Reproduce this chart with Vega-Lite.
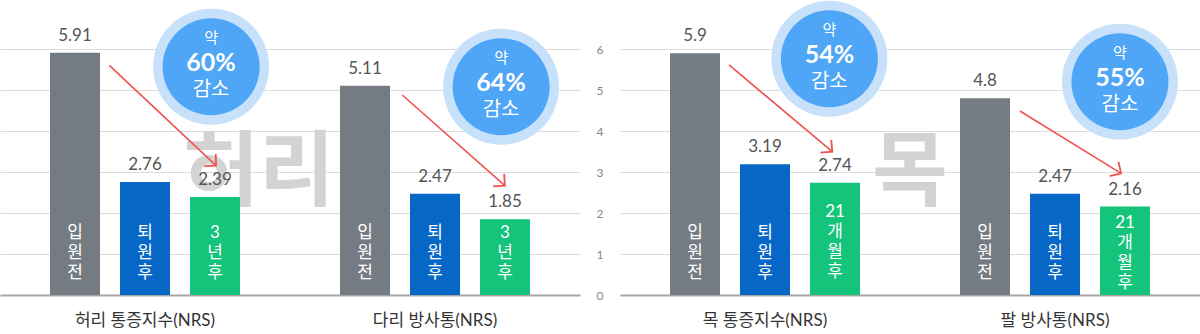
{
  "$schema": "https://vega.github.io/schema/vega-lite/v6.json",
  "padding": 0,
  "spacing": 16,
  "background": "white",
  "config": {"view": {"stroke": null}, "font": "Lato, Noto Sans CJK KR"},
  "resolve": {"scale": {"xOffset": "independent"}},
  "datasets": {
    "bars": [
      {"panel": "L", "group": "허리 통증지수(NRS)", "stage": "입원전", "label": "입\n원\n전", "value": 5.91},
      {"panel": "L", "group": "허리 통증지수(NRS)", "stage": "퇴원후", "label": "퇴\n원\n후", "value": 2.76},
      {"panel": "L", "group": "허리 통증지수(NRS)", "stage": "3년후", "label": "3\n년\n후", "value": 2.39},
      {"panel": "L", "group": "다리 방사통(NRS)", "stage": "입원전", "label": "입\n원\n전", "value": 5.11},
      {"panel": "L", "group": "다리 방사통(NRS)", "stage": "퇴원후", "label": "퇴\n원\n후", "value": 2.47},
      {"panel": "L", "group": "다리 방사통(NRS)", "stage": "3년후", "label": "3\n년\n후", "value": 1.85},
      {"panel": "R", "group": "목 통증지수(NRS)", "stage": "입원전", "label": "입\n원\n전", "value": 5.9},
      {"panel": "R", "group": "목 통증지수(NRS)", "stage": "퇴원후", "label": "퇴\n원\n후", "value": 3.19},
      {"panel": "R", "group": "목 통증지수(NRS)", "stage": "21개월후", "label": "21\n개\n월\n후", "value": 2.74},
      {"panel": "R", "group": "팔 방사통(NRS)", "stage": "입원전", "label": "입\n원\n전", "value": 4.8},
      {"panel": "R", "group": "팔 방사통(NRS)", "stage": "퇴원후", "label": "퇴\n원\n후", "value": 2.47},
      {"panel": "R", "group": "팔 방사통(NRS)", "stage": "21개월후", "label": "21\n개\n월\n후", "value": 2.16}
    ],
    "bubbles": [
      {"panel": "L", "pct": "60%", "x": 0.728, "y": 5.572},
      {"panel": "L", "pct": "64%", "x": 1.728, "y": 5.084},
      {"panel": "R", "pct": "54%", "x": 0.722, "y": 5.767},
      {"panel": "R", "pct": "55%", "x": 1.724, "y": 5.206}
    ],
    "arrows": [
      {"panel": "L", "id": 1, "x": 0.377, "y": 5.606, "x2": 0.745, "y2": 3.156},
      {"panel": "L", "id": 2, "x": 1.387, "y": 4.881, "x2": 1.741, "y2": 2.668},
      {"panel": "R", "id": 3, "x": 0.376, "y": 5.614, "x2": 0.732, "y2": 3.498},
      {"panel": "R", "id": 4, "x": 1.379, "y": 4.491, "x2": 1.728, "y2": 2.97}
    ],
    "marks": [
      {"panel": "L", "text": "허리", "x": 0.893, "y": 2.95},
      {"panel": "R", "text": "목", "x": 1.0, "y": 2.95}
    ]
  },
  "hconcat": [
    {
      "width": 580,
      "height": 295,
      "resolve": {"scale": {"x": "independent"}},
      "layer": [
        {
          "data": {"name": "marks"},
          "transform": [{"filter": "datum.panel === 'L'"}],
          "mark": {"type": "text", "font": "Noto Sans CJK KR", "fontSize": 82, "fontWeight": "bold", "color": "#d3d3d3", "align": "center", "baseline": "middle"},
          "encoding": {
            "x": {"field": "x", "type": "quantitative", "scale": {"domain": [0, 2], "nice": false, "zero": false}, "axis": null},
            "y": {"field": "y", "type": "quantitative", "title": null},
            "text": {"field": "text"}
          }
        },
        {
          "data": {"name": "bars"},
          "transform": [{"filter": "datum.panel === 'L'"}],
          "mark": {"type": "bar"},
          "encoding": {
            "x": {"field": "group", "type": "nominal", "scale": {"domain": ["허리 통증지수(NRS)", "다리 방사통(NRS)"], "paddingInner": 0, "paddingOuter": 0},
              "axis": {"title": null, "ticks": false, "tickSize": 0, "labelPadding": 17, "labelFontSize": 17, "labelColor": "#333", "labelAngle": 0, "domainColor": "#a6a6a6", "domainWidth": 2, "grid": false}},
            "xOffset": {"field": "stage", "type": "nominal", "scale": {"domain": ["입원전", "퇴원후", "3년후"], "paddingInner": 0.2857, "paddingOuter": 0.7143}},
            "y": {"field": "value", "type": "quantitative", "title": null, "scale": {"domain": [0, 7.2], "nice": false},
              "axis": {"title": null, "values": [0, 1, 2, 3, 4, 5, 6], "labels": false, "ticks": false, "domain": false, "grid": true, "gridColor": "#dcdcdc", "gridWidth": 1}},
            "color": {"field": "stage", "type": "nominal", "scale": {"domain": ["입원전", "퇴원후", "3년후", "21개월후"], "range": ["#757b83", "#0767c7", "#14c47a", "#14c47a"]}, "legend": null}
          }
        },
        {
          "data": {"name": "bars"},
          "transform": [{"filter": "datum.panel === 'L'"}],
          "mark": {"type": "text", "baseline": "alphabetic", "dy": -12, "fontSize": 17, "color": "#555"},
          "encoding": {
            "x": {"field": "group", "type": "nominal", "scale": {"domain": ["허리 통증지수(NRS)", "다리 방사통(NRS)"], "paddingInner": 0, "paddingOuter": 0}, "axis": null},
            "xOffset": {"field": "stage", "type": "nominal", "scale": {"domain": ["입원전", "퇴원후", "3년후"], "paddingInner": 0.2857, "paddingOuter": 0.7143}},
            "y": {"field": "value", "type": "quantitative", "title": null},
            "text": {"field": "value", "type": "quantitative"}
          }
        },
        {
          "data": {"name": "bars"},
          "transform": [{"filter": "datum.panel === 'L'"}],
          "mark": {"type": "text", "baseline": "alphabetic", "dy": -57, "fontSize": 17, "lineHeight": 20, "lineBreak": "\n", "color": "white"},
          "encoding": {
            "x": {"field": "group", "type": "nominal", "scale": {"domain": ["허리 통증지수(NRS)", "다리 방사통(NRS)"], "paddingInner": 0, "paddingOuter": 0}, "axis": null},
            "xOffset": {"field": "stage", "type": "nominal", "scale": {"domain": ["입원전", "퇴원후", "3년후"], "paddingInner": 0.2857, "paddingOuter": 0.7143}},
            "y": {"datum": 0, "type": "quantitative", "title": null},
            "text": {"field": "label"}
          }
        },
        {
          "data": {"name": "bubbles"},
          "transform": [{"filter": "datum.panel === 'L'"}],
          "mark": {"type": "point", "shape": "circle", "filled": true, "size": 13456, "color": "#c8e1fa", "opacity": 1},
          "encoding": {
            "x": {"field": "x", "type": "quantitative", "scale": {"domain": [0, 2], "nice": false, "zero": false}, "axis": null},
            "y": {"field": "y", "type": "quantitative", "title": null}
          }
        },
        {
          "data": {"name": "bubbles"},
          "transform": [{"filter": "datum.panel === 'L'"}],
          "mark": {"type": "point", "shape": "circle", "filled": true, "size": 9409, "color": "#4fa5f6", "opacity": 1},
          "encoding": {
            "x": {"field": "x", "type": "quantitative", "scale": {"domain": [0, 2], "nice": false, "zero": false}, "axis": null},
            "y": {"field": "y", "type": "quantitative", "title": null}
          }
        },
        {
          "data": {"name": "bubbles"},
          "transform": [{"filter": "datum.panel === 'L'"}],
          "mark": {"type": "text", "text": "약", "fontSize": 15, "dy": -29, "color": "white", "baseline": "middle"},
          "encoding": {
            "x": {"field": "x", "type": "quantitative", "scale": {"domain": [0, 2], "nice": false, "zero": false}, "axis": null},
            "y": {"field": "y", "type": "quantitative", "title": null}
          }
        },
        {
          "data": {"name": "bubbles"},
          "transform": [{"filter": "datum.panel === 'L'"}],
          "mark": {"type": "text", "fontSize": 25, "fontWeight": "bold", "dy": -4, "color": "white", "baseline": "middle"},
          "encoding": {
            "x": {"field": "x", "type": "quantitative", "scale": {"domain": [0, 2], "nice": false, "zero": false}, "axis": null},
            "y": {"field": "y", "type": "quantitative", "title": null},
            "text": {"field": "pct"}
          }
        },
        {
          "data": {"name": "bubbles"},
          "transform": [{"filter": "datum.panel === 'L'"}],
          "mark": {"type": "text", "text": "감소", "fontSize": 20, "dy": 23, "color": "white", "baseline": "middle"},
          "encoding": {
            "x": {"field": "x", "type": "quantitative", "scale": {"domain": [0, 2], "nice": false, "zero": false}, "axis": null},
            "y": {"field": "y", "type": "quantitative", "title": null}
          }
        },
        {
          "data": {"name": "arrows"},
          "transform": [{"filter": "datum.panel === 'L'"}],
          "mark": {"type": "rule", "color": "#f05252", "strokeWidth": 1.6},
          "encoding": {
            "x": {"field": "x", "type": "quantitative", "scale": {"domain": [0, 2], "nice": false, "zero": false}, "axis": null},
            "y": {"field": "y", "type": "quantitative", "title": null},
            "x2": {"field": "x2"},
            "y2": {"field": "y2"}
          }
        },
        {
          "data": {"name": "arrows"},
          "transform": [{"filter": "datum.id === 1"}],
          "mark": {"type": "point", "shape": "M-1,-1L0,0L-1,1", "filled": false, "size": 280, "color": "#f05252", "strokeWidth": 1.8, "angle": 43.3, "opacity": 1},
          "encoding": {
            "x": {"field": "x2", "type": "quantitative", "scale": {"domain": [0, 2], "nice": false, "zero": false}, "axis": null},
            "y": {"field": "y2", "type": "quantitative", "title": null}
          }
        },
        {
          "data": {"name": "arrows"},
          "transform": [{"filter": "datum.id === 2"}],
          "mark": {"type": "point", "shape": "M-1,-1L0,0L-1,1", "filled": false, "size": 280, "color": "#f05252", "strokeWidth": 1.8, "angle": 41.4, "opacity": 1},
          "encoding": {
            "x": {"field": "x2", "type": "quantitative", "scale": {"domain": [0, 2], "nice": false, "zero": false}, "axis": null},
            "y": {"field": "y2", "type": "quantitative", "title": null}
          }
        }
      ]
    },
    {
      "width": 580,
      "height": 295,
      "resolve": {"scale": {"x": "independent"}},
      "layer": [
        {
          "data": {"name": "marks"},
          "transform": [{"filter": "datum.panel === 'R'"}],
          "mark": {"type": "text", "font": "Noto Sans CJK KR", "fontSize": 82, "fontWeight": "bold", "color": "#d3d3d3", "align": "center", "baseline": "middle"},
          "encoding": {
            "x": {"field": "x", "type": "quantitative", "scale": {"domain": [0, 2], "nice": false, "zero": false}, "axis": null},
            "y": {"field": "y", "type": "quantitative", "title": null},
            "text": {"field": "text"}
          }
        },
        {
          "data": {"name": "bars"},
          "transform": [{"filter": "datum.panel === 'R'"}],
          "mark": {"type": "bar"},
          "encoding": {
            "x": {"field": "group", "type": "nominal", "scale": {"domain": ["목 통증지수(NRS)", "팔 방사통(NRS)"], "paddingInner": 0, "paddingOuter": 0},
              "axis": {"title": null, "ticks": false, "tickSize": 0, "labelPadding": 17, "labelFontSize": 17, "labelColor": "#333", "labelAngle": 0, "domainColor": "#a6a6a6", "domainWidth": 2, "grid": false}},
            "xOffset": {"field": "stage", "type": "nominal", "scale": {"domain": ["입원전", "퇴원후", "21개월후"], "paddingInner": 0.2857, "paddingOuter": 0.7143}},
            "y": {"field": "value", "type": "quantitative", "title": null, "scale": {"domain": [0, 7.2], "nice": false},
              "axis": {"title": null, "values": [0, 1, 2, 3, 4, 5, 6], "labels": true, "labelFontSize": 12, "labelColor": "#888", "labelPadding": 17, "ticks": false, "tickSize": 0, "domain": false, "grid": true, "gridColor": "#dcdcdc", "gridWidth": 1}},
            "color": {"field": "stage", "type": "nominal", "scale": {"domain": ["입원전", "퇴원후", "3년후", "21개월후"], "range": ["#757b83", "#0767c7", "#14c47a", "#14c47a"]}, "legend": null}
          }
        },
        {
          "data": {"name": "bars"},
          "transform": [{"filter": "datum.panel === 'R'"}],
          "mark": {"type": "text", "baseline": "alphabetic", "dy": -12, "fontSize": 17, "color": "#555"},
          "encoding": {
            "x": {"field": "group", "type": "nominal", "scale": {"domain": ["목 통증지수(NRS)", "팔 방사통(NRS)"], "paddingInner": 0, "paddingOuter": 0}, "axis": null},
            "xOffset": {"field": "stage", "type": "nominal", "scale": {"domain": ["입원전", "퇴원후", "21개월후"], "paddingInner": 0.2857, "paddingOuter": 0.7143}},
            "y": {"field": "value", "type": "quantitative", "title": null},
            "text": {"field": "value", "type": "quantitative"}
          }
        },
        {
          "data": {"name": "bars"},
          "transform": [{"filter": "datum.panel === 'R' && datum.stage !== '21개월후'"}],
          "mark": {"type": "text", "baseline": "alphabetic", "dy": -57, "fontSize": 17, "lineHeight": 20, "lineBreak": "\n", "color": "white"},
          "encoding": {
            "x": {"field": "group", "type": "nominal", "scale": {"domain": ["목 통증지수(NRS)", "팔 방사통(NRS)"], "paddingInner": 0, "paddingOuter": 0}, "axis": null},
            "xOffset": {"field": "stage", "type": "nominal", "scale": {"domain": ["입원전", "퇴원후", "21개월후"], "paddingInner": 0.2857, "paddingOuter": 0.7143}},
            "y": {"datum": 0, "type": "quantitative", "title": null},
            "text": {"field": "label"}
          }
        },
        {
          "data": {"name": "bars"},
          "transform": [{"filter": "datum.panel === 'R' && datum.stage === '21개월후' && datum.group === '목 통증지수(NRS)'"}],
          "mark": {"type": "text", "baseline": "alphabetic", "dy": -78, "fontSize": 17, "lineHeight": 20, "lineBreak": "\n", "color": "white"},
          "encoding": {
            "x": {"field": "group", "type": "nominal", "scale": {"domain": ["목 통증지수(NRS)", "팔 방사통(NRS)"], "paddingInner": 0, "paddingOuter": 0}, "axis": null},
            "xOffset": {"field": "stage", "type": "nominal", "scale": {"domain": ["입원전", "퇴원후", "21개월후"], "paddingInner": 0.2857, "paddingOuter": 0.7143}},
            "y": {"datum": 0, "type": "quantitative", "title": null},
            "text": {"field": "label"}
          }
        },
        {
          "data": {"name": "bars"},
          "transform": [{"filter": "datum.panel === 'R' && datum.stage === '21개월후' && datum.group === '팔 방사통(NRS)'"}],
          "mark": {"type": "text", "baseline": "alphabetic", "dy": -67, "fontSize": 17, "lineHeight": 20, "lineBreak": "\n", "color": "white"},
          "encoding": {
            "x": {"field": "group", "type": "nominal", "scale": {"domain": ["목 통증지수(NRS)", "팔 방사통(NRS)"], "paddingInner": 0, "paddingOuter": 0}, "axis": null},
            "xOffset": {"field": "stage", "type": "nominal", "scale": {"domain": ["입원전", "퇴원후", "21개월후"], "paddingInner": 0.2857, "paddingOuter": 0.7143}},
            "y": {"datum": 0, "type": "quantitative", "title": null},
            "text": {"field": "label"}
          }
        },
        {
          "data": {"name": "bubbles"},
          "transform": [{"filter": "datum.panel === 'R'"}],
          "mark": {"type": "point", "shape": "circle", "filled": true, "size": 13456, "color": "#c8e1fa", "opacity": 1},
          "encoding": {
            "x": {"field": "x", "type": "quantitative", "scale": {"domain": [0, 2], "nice": false, "zero": false}, "axis": null},
            "y": {"field": "y", "type": "quantitative", "title": null}
          }
        },
        {
          "data": {"name": "bubbles"},
          "transform": [{"filter": "datum.panel === 'R'"}],
          "mark": {"type": "point", "shape": "circle", "filled": true, "size": 9409, "color": "#4fa5f6", "opacity": 1},
          "encoding": {
            "x": {"field": "x", "type": "quantitative", "scale": {"domain": [0, 2], "nice": false, "zero": false}, "axis": null},
            "y": {"field": "y", "type": "quantitative", "title": null}
          }
        },
        {
          "data": {"name": "bubbles"},
          "transform": [{"filter": "datum.panel === 'R'"}],
          "mark": {"type": "text", "text": "약", "fontSize": 15, "dy": -29, "color": "white", "baseline": "middle"},
          "encoding": {
            "x": {"field": "x", "type": "quantitative", "scale": {"domain": [0, 2], "nice": false, "zero": false}, "axis": null},
            "y": {"field": "y", "type": "quantitative", "title": null}
          }
        },
        {
          "data": {"name": "bubbles"},
          "transform": [{"filter": "datum.panel === 'R'"}],
          "mark": {"type": "text", "fontSize": 25, "fontWeight": "bold", "dy": -4, "color": "white", "baseline": "middle"},
          "encoding": {
            "x": {"field": "x", "type": "quantitative", "scale": {"domain": [0, 2], "nice": false, "zero": false}, "axis": null},
            "y": {"field": "y", "type": "quantitative", "title": null},
            "text": {"field": "pct"}
          }
        },
        {
          "data": {"name": "bubbles"},
          "transform": [{"filter": "datum.panel === 'R'"}],
          "mark": {"type": "text", "text": "감소", "fontSize": 20, "dy": 23, "color": "white", "baseline": "middle"},
          "encoding": {
            "x": {"field": "x", "type": "quantitative", "scale": {"domain": [0, 2], "nice": false, "zero": false}, "axis": null},
            "y": {"field": "y", "type": "quantitative", "title": null}
          }
        },
        {
          "data": {"name": "arrows"},
          "transform": [{"filter": "datum.panel === 'R'"}],
          "mark": {"type": "rule", "color": "#f05252", "strokeWidth": 1.6},
          "encoding": {
            "x": {"field": "x", "type": "quantitative", "scale": {"domain": [0, 2], "nice": false, "zero": false}, "axis": null},
            "y": {"field": "y", "type": "quantitative", "title": null},
            "x2": {"field": "x2"},
            "y2": {"field": "y2"}
          }
        },
        {
          "data": {"name": "arrows"},
          "transform": [{"filter": "datum.id === 3"}],
          "mark": {"type": "point", "shape": "M-1,-1L0,0L-1,1", "filled": false, "size": 280, "color": "#f05252", "strokeWidth": 1.8, "angle": 40.0, "opacity": 1},
          "encoding": {
            "x": {"field": "x2", "type": "quantitative", "scale": {"domain": [0, 2], "nice": false, "zero": false}, "axis": null},
            "y": {"field": "y2", "type": "quantitative", "title": null}
          }
        },
        {
          "data": {"name": "arrows"},
          "transform": [{"filter": "datum.id === 4"}],
          "mark": {"type": "point", "shape": "M-1,-1L0,0L-1,1", "filled": false, "size": 280, "color": "#f05252", "strokeWidth": 1.8, "angle": 31.7, "opacity": 1},
          "encoding": {
            "x": {"field": "x2", "type": "quantitative", "scale": {"domain": [0, 2], "nice": false, "zero": false}, "axis": null},
            "y": {"field": "y2", "type": "quantitative", "title": null}
          }
        }
      ]
    }
  ]
}
